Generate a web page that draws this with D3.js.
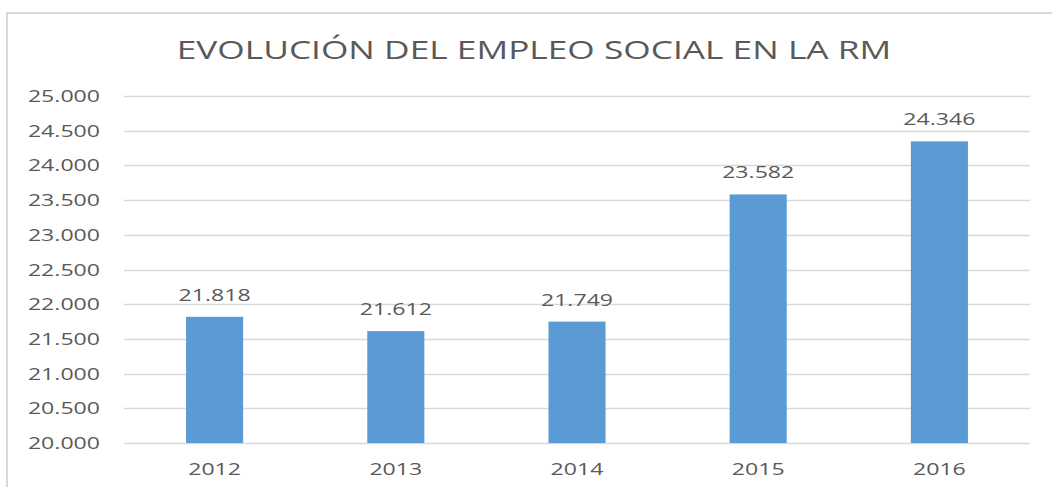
<!DOCTYPE html>
<html lang="es">
<head>
<meta charset="UTF-8">
<title>Evolución del empleo social en la RM</title>
<script src="https://d3js.org/d3.v7.min.js"></script>
<style>
    body { margin: 0; background: #fff; }
    svg { display: block; }
    text { font-family: "Open Sans", sans-serif; fill: #595959; }
</style>
</head>
<body>
<div id="chart"></div>
<script>
    const years = ["2012", "2013", "2014", "2015", "2016"];
    const empleo = [21818, 21612, 21749, 23582, 24346];
    const yTicks = [20000, 20500, 21000, 21500, 22000, 22500, 23000, 23500, 24000, 24500, 25000];

    const width = 1052, height = 487;
    const SX = 1.4; // el original está estirado horizontalmente

    const fmt = d3.formatLocale({ decimal: ",", thousands: ".", grouping: [3], currency: ["", "€"] }).format(",.0f");

    const svg = d3.select("#chart").append("svg")
        .attr("width", width)
        .attr("height", height);

    // borde del gráfico (cortado por la derecha y abajo)
    svg.append("path")
        .attr("d", `M7,${height + 2} L7,13 L${width + 2},13`)
        .attr("fill", "none")
        .attr("stroke", "#d9d9d9")
        .attr("stroke-width", 2);

    const x = d3.scaleBand().domain(years).range([124, 1030]).paddingInner(0.685).paddingOuter(0.3425);
    const y = d3.scaleLinear().domain([20000, 25000]).range([443, 96]);

    function stretchedText(px, py, str, size, anchor) {
        const g = svg.append("g").attr("transform", `translate(${px},${py}) scale(${SX},1)`);
        return g.append("text")
            .attr("text-anchor", anchor)
            .style("font-size", size + "px")
            .text(str);
    }

    // líneas de cuadrícula
    svg.append("g")
        .selectAll("line")
        .data(yTicks)
        .join("line")
        .attr("x1", 124)
        .attr("x2", 1030)
        .attr("y1", d => Math.round(y(d)) + 0.5)
        .attr("y2", d => Math.round(y(d)) + 0.5)
        .attr("stroke", "#d9d9d9")
        .attr("stroke-width", 1.5);

    // etiquetas eje Y
    yTicks.forEach(t => stretchedText(100, y(t) + 6, fmt(t), 16.5, "end"));

    // barras
    svg.append("g")
        .selectAll("rect")
        .data(empleo)
        .join("rect")
        .attr("x", (d, i) => x(years[i]))
        .attr("width", x.bandwidth())
        .attr("y", d => y(d))
        .attr("height", d => y(20000) - y(d))
        .attr("fill", "#5b9bd5");

    // etiquetas de datos
    empleo.forEach((d, i) => stretchedText(x(years[i]) + x.bandwidth() / 2, y(d) - 16, fmt(d), 16.5, "middle"));

    // etiquetas eje X
    years.forEach(yr => stretchedText(x(yr) + x.bandwidth() / 2, 475, yr, 16.5, "middle"));

    // título
    stretchedText(534, 59, "EVOLUCIÓN DEL EMPLEO SOCIAL EN LA RM", 25.2, "middle");
</script>
</body>
</html>
